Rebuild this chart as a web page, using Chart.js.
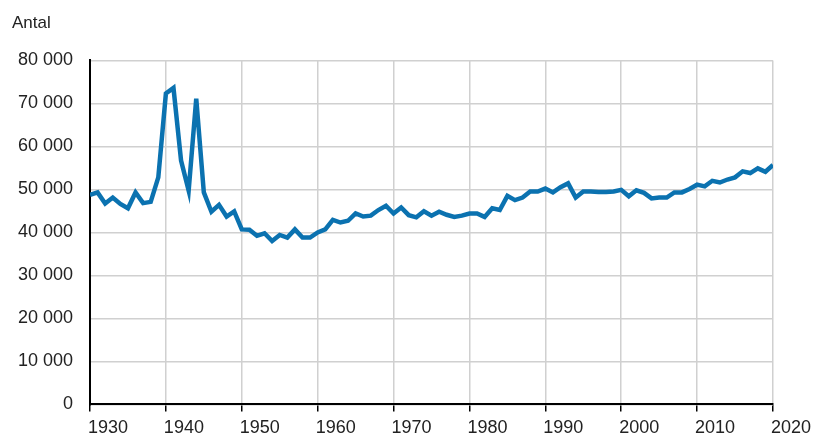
<!DOCTYPE html>
<html>
<head>
<meta charset="utf-8">
<script src="https://cdn.jsdelivr.net/npm/chart.js@4.4.1/dist/chart.umd.min.js"></script>
<style>
  html, body { margin: 0; padding: 0; background: #fff; }
  #chart { display: block; }
</style>
</head>
<body>
<canvas id="chart" width="815" height="445"></canvas>
<script>
// Years on the x axis
const years = [
  1930, 1931, 1932, 1933, 1934, 1935, 1936, 1937, 1938, 1939,
  1940, 1941, 1942, 1943, 1944, 1945, 1946, 1947, 1948, 1949,
  1950, 1951, 1952, 1953, 1954, 1955, 1956, 1957, 1958, 1959,
  1960, 1961, 1962, 1963, 1964, 1965, 1966, 1967, 1968, 1969,
  1970, 1971, 1972, 1973, 1974, 1975, 1976, 1977, 1978, 1979,
  1980, 1981, 1982, 1983, 1984, 1985, 1986, 1987, 1988, 1989,
  1990, 1991, 1992, 1993, 1994, 1995, 1996, 1997, 1998, 1999,
  2000, 2001, 2002, 2003, 2004, 2005, 2006, 2007, 2008, 2009,
  2010, 2011, 2012, 2013, 2014, 2015, 2016, 2017, 2018, 2019,
  2020,
];

// Antal per year
const antal = [
  48700, 49300, 46700, 48100, 46600, 45600, 49300, 46800, 47100, 52800,
  72300, 73600, 56700, 49700, 71100, 49300, 44800, 46400, 43700, 44900,
  40700, 40600, 39200, 39800, 38000, 39400, 38800, 40700, 38800, 38800,
  40000, 40700, 42900, 42300, 42700, 44400, 43700, 43900, 45200, 46200,
  44400, 45800, 44000, 43500, 44900, 43900, 44800, 44100, 43600, 43900,
  44400, 44400, 43600, 45600, 45200, 48500, 47500, 48100, 49500, 49500,
  50200, 49300, 50500, 51400, 48100, 49500, 49500, 49400, 49400, 49500,
  49900, 48400, 49800, 49200, 47900, 48100, 48100, 49300, 49300, 50100,
  51100, 50700, 52000, 51600, 52300, 52800, 54200, 53800, 54900, 54100,
  55700,
];

// Axis ranges and tick steps
const xRange = [1930, 2020];
const xStep = 10;
const yRange = [0, 80000];
const yStep = 10000;
const yTitle = "Antal";

const textColor = "#222222";
const gridColor = "#d0d0d0";
const lineColor = "#0b72b0";
const font = { family: "'Liberation Sans', Arial, sans-serif", size: 18 };

// "80000" -> "80 000"
function formatThousands(v) {
  return String(v).replace(/\B(?=(\d{3})+(?!\d))/g, " ");
}

const ctx = document.getElementById("chart").getContext("2d");

new Chart(ctx, {
  type: "line",
  data: {
    datasets: [
      {
        label: yTitle,
        data: years.map((y, i) => ({ x: y, y: antal[i] })),
        borderColor: lineColor,
        borderWidth: 4.5,
        pointRadius: 0,
        tension: 0,
        fill: false,
      },
    ],
  },
  options: {
    responsive: false,
    animation: false,
    layout: {
      padding: { left: 12, right: 42, top: 0, bottom: 0 },
    },
    plugins: {
      legend: { display: false },
      tooltip: { enabled: false },
      title: {
        display: true,
        text: yTitle,
        align: "start",
        color: textColor,
        font: { family: font.family, size: 17, weight: "normal" },
        padding: { top: 13, bottom: 27 },
      },
    },
    scales: {
      x: {
        type: "linear",
        min: xRange[0],
        max: xRange[1],
        grid: {
          color: gridColor,
          lineWidth: 1.5,
          tickColor: "#000000",
          tickLength: 7,
        },
        border: { color: "#000000", width: 2 },
        ticks: {
          stepSize: xStep,
          color: textColor,
          font: font,
          padding: 6,
          labelOffset: 18,
          maxRotation: 0,
          callback: (v) => String(v),
        },
      },
      y: {
        min: yRange[0],
        max: yRange[1],
        afterFit: (scale) => {
          scale.width = 78;
        },
        grid: {
          color: gridColor,
          lineWidth: 1.5,
          drawTicks: false,
        },
        border: { color: "#000000", width: 2 },
        ticks: {
          stepSize: yStep,
          color: textColor,
          font: font,
          padding: 17,
          callback: (v) => formatThousands(v),
        },
      },
    },
  },
});
</script>
</body>
</html>
